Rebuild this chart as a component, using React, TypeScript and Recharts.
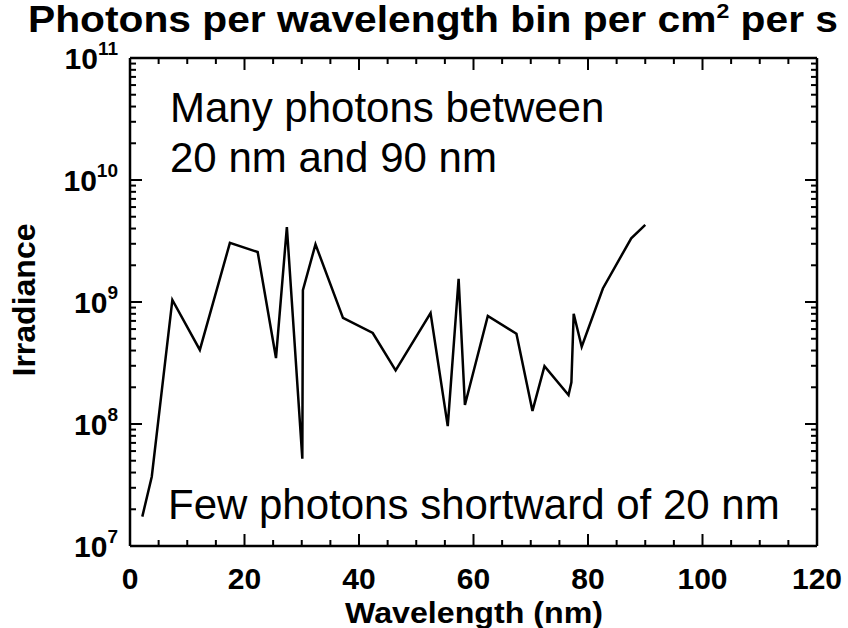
import React from 'react';
import { LineChart, Line, XAxis, YAxis } from 'recharts';

// Solar EUV irradiance, photons per wavelength bin
const wavelengths = [
  2.15, 3.8, 7.4, 12.2, 17.45, 22.3, 25.5, 27.4, 30.1, 30.2, 32.4, 37.2, 42.4, 46.4, 52.5,
  55.5, 57.4, 58.5, 62.5, 67.5, 70.3, 72.4, 76.6, 77.1, 77.5, 78.9, 82.6, 87.55, 90.0,
];
const irradiance = [
  1.74e7, 3.7e7, 1.04e9, 4.05e8, 3.05e9, 2.57e9, 3.47e8, 4.12e9, 5.2e7, 1.25e9, 2.97e9,
  7.4e8, 5.57e8, 2.75e8, 8.1e8, 9.6e7, 1.55e9, 1.43e8, 7.7e8, 5.5e8, 1.28e8, 2.98e8, 1.73e8,
  2.2e8, 8.0e8, 4.3e8, 1.29e9, 3.33e9, 4.28e9,
];

const xTicks = [
  0, 5, 10, 15, 20, 25, 30, 35, 40, 45, 50, 55, 60, 65, 70, 75, 80, 85, 90, 95, 100, 105, 110,
  115, 120,
];
const xLabelStep = 20;
const decades = [1e7, 1e8, 1e9, 1e10, 1e11];
const minorMultipliers = [1, 2, 3, 4, 5, 6, 7, 8, 9];

const yTicks = decades.flatMap((d, i) =>
  i === decades.length - 1 ? [d] : minorMultipliers.map((m) => d * m)
);

const data = wavelengths.map((w, i) => ({ wavelength: w, irradiance: irradiance[i] }));

const WIDTH = 848;
const HEIGHT = 628;
const FONT = '"Liberation Sans", Arial, Helvetica, sans-serif';

type Side = 'left' | 'right' | 'top' | 'bottom';

// Inward-pointing ticks on every side of the frame; labels only on left/bottom
const FrameTick = ({
  x,
  y,
  payload,
  side,
}: {
  x?: number;
  y?: number;
  payload?: { value: number };
  side: Side;
}) => {
  if (x == null || y == null || !payload) return null;
  const v = payload.value;

  if (side === 'left' || side === 'right') {
    const exp = Math.log10(v);
    const major = Math.abs(exp - Math.round(exp)) < 1e-6;
    const len = major ? 12 : 6;
    const dir = side === 'left' ? 1 : -1;
    return (
      <g>
        <line x1={x} y1={y} x2={x + dir * len} y2={y} stroke="#000" strokeWidth={2} />
        {side === 'left' && major && (
          <text
            x={x - 12}
            y={y + 11}
            textAnchor="end"
            fontFamily={FONT}
            fontWeight="bold"
            fontSize={30}
            fill="#000"
          >
            10
            <tspan dy={-14} fontSize={19}>
              {Math.round(exp)}
            </tspan>
          </text>
        )}
      </g>
    );
  }

  const major = v % xLabelStep === 0;
  const len = major ? 12 : 6;
  const dir = side === 'bottom' ? -1 : 1;
  return (
    <g>
      <line x1={x} y1={y} x2={x} y2={y + dir * len} stroke="#000" strokeWidth={2} />
      {side === 'bottom' && major && (
        <text
          x={x}
          y={y + 43}
          textAnchor="middle"
          fontFamily={FONT}
          fontWeight="bold"
          fontSize={30}
          fill="#000"
        >
          {v}
        </text>
      )}
    </g>
  );
};

export default function App() {
  const axisLine = { stroke: '#000', strokeWidth: 2.5 };

  return (
    <div style={{ position: 'absolute', left: 0, top: 0, width: WIDTH, height: HEIGHT, background: '#fff' }}>
      <LineChart
        width={WIDTH}
        height={HEIGHT}
        data={data}
        margin={{ top: 57, right: 30, bottom: 81, left: 129 }}
      >
        <XAxis
          dataKey="wavelength"
          type="number"
          domain={[0, 120]}
          ticks={xTicks}
          interval={0}
          allowDataOverflow
          height={1}
          tickSize={0}
          tickMargin={0}
          tickLine={false}
          axisLine={axisLine}
          tick={(p: any) => <FrameTick {...p} side="bottom" />}
        />
        <XAxis
          xAxisId="top"
          orientation="top"
          dataKey="wavelength"
          type="number"
          domain={[0, 120]}
          ticks={xTicks}
          interval={0}
          allowDataOverflow
          height={1}
          tickSize={0}
          tickMargin={0}
          tickLine={false}
          axisLine={axisLine}
          tick={(p: any) => <FrameTick {...p} side="top" />}
        />
        <YAxis
          type="number"
          scale="log"
          domain={[1e7, 1e11]}
          ticks={yTicks}
          interval={0}
          allowDataOverflow
          width={1}
          tickSize={0}
          tickMargin={0}
          tickLine={false}
          axisLine={axisLine}
          tick={(p: any) => <FrameTick {...p} side="left" />}
        />
        <YAxis
          yAxisId="right"
          orientation="right"
          type="number"
          scale="log"
          domain={[1e7, 1e11]}
          ticks={yTicks}
          interval={0}
          allowDataOverflow
          width={1}
          tickSize={0}
          tickMargin={0}
          tickLine={false}
          axisLine={axisLine}
          tick={(p: any) => <FrameTick {...p} side="right" />}
        />
        <Line
          type="linear"
          dataKey="irradiance"
          stroke="#000"
          strokeWidth={2.5}
          dot={false}
          isAnimationActive={false}
        />
      </LineChart>

      {/* titles and annotations */}
      <svg
        width={WIDTH}
        height={HEIGHT}
        style={{ position: 'absolute', left: 0, top: 0, pointerEvents: 'none' }}
      >
        <text
          x={28}
          y={32}
          fontFamily={FONT}
          fontWeight="bold"
          fontSize={37}
          textLength={810}
          lengthAdjust="spacingAndGlyphs"
          fill="#000"
        >
          Photons per wavelength bin per cm
          <tspan dy={-14} fontSize={21}>
            2
          </tspan>
          <tspan dy={14}> per s</tspan>
        </text>
        <text
          x={474}
          y={623}
          textAnchor="middle"
          fontFamily={FONT}
          fontWeight="bold"
          fontSize={29}
          textLength={258}
          lengthAdjust="spacingAndGlyphs"
          fill="#000"
        >
          Wavelength (nm)
        </text>
        <text
          x={35}
          y={300}
          transform="rotate(-90 35 300)"
          textAnchor="middle"
          fontFamily={FONT}
          fontWeight="bold"
          fontSize={32}
          fill="#000"
        >
          Irradiance
        </text>
        <text x={170} y={122} fontFamily={FONT} fontSize={42} fill="#000">
          Many photons between
        </text>
        <text x={170} y={172} fontFamily={FONT} fontSize={42} fill="#000">
          20 nm and 90 nm
        </text>
        <text x={168} y={519} fontFamily={FONT} fontSize={42} fill="#000">
          Few photons shortward of 20 nm
        </text>
      </svg>
    </div>
  );
}
